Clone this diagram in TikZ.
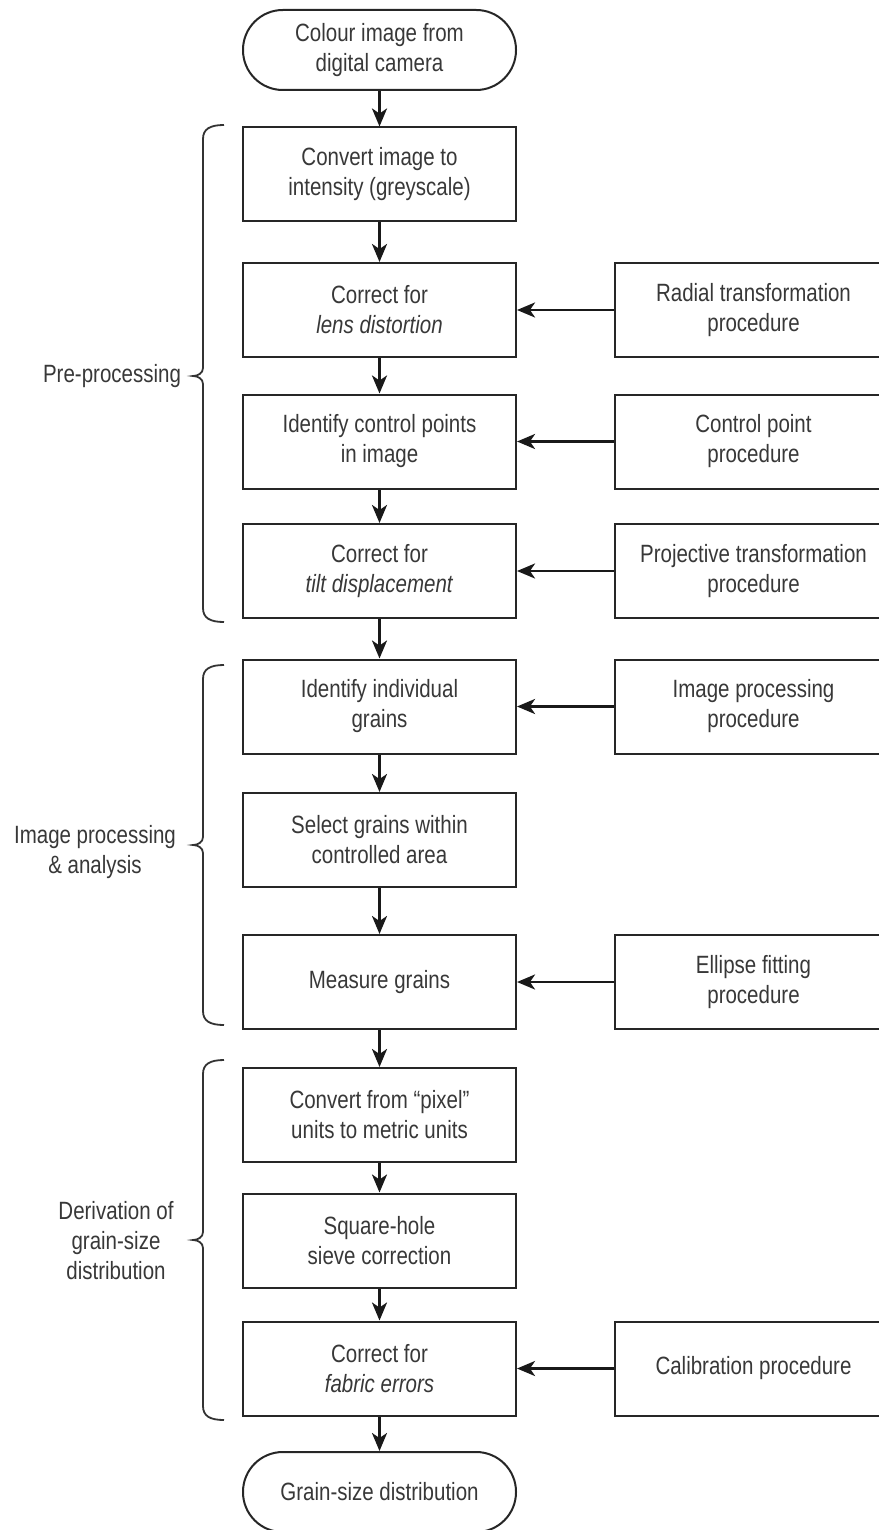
\documentclass[tikz,border=0pt]{standalone}
\usepackage{fontspec}
\setmainfont{Liberation Sans}[FakeStretch=0.82]
\usetikzlibrary{arrows.meta}
\begin{document}
\begin{tikzpicture}[x=0.5pt,y=-0.5pt,font=\fontsize{12.5}{15}\selectfont]
\tikzset{
 box/.style={draw=black!85, line width=1pt, minimum width=136.5pt, minimum height=47pt, inner sep=0pt, align=center, text=black!78},
 sidebox/.style={box, minimum width=138.5pt},
 term/.style={box, minimum height=40pt, rounded corners=19.9pt},
 flow/.style={draw=black!90, line width=1.35pt, -{Stealth[length=9pt,width=7.5pt,inset=2.5pt]}},
 brace/.style={draw=black!80, line width=0.9pt},
 lbl/.style={align=center, text=black!78}
}
\useasboundingbox (0,0) rectangle (878,1530);
% main column
\node[term] (t1) at (379.5,50) {Colour image from\\digital camera};
\node[box] (b1) at (379.5,174.5) {Convert image to\\intensity (greyscale)};
\node[box] (b2) at (379.5,310) {Correct for\\\textit{lens distortion}};
\node[box] (b3) at (379.5,441.5) {Identify control points\\in image};
\node[box] (b4) at (379.5,571) {Correct for\\\textit{tilt displacement}};
\node[box] (b5) at (379.5,706.5) {Identify individual\\grains};
\node[box] (b6) at (379.5,840) {Select grains within\\controlled area};
\node[box] (b7) at (379.5,982) {Measure grains};
\node[box] (b8) at (379.5,1115) {Convert from ``pixel''\\units to metric units};
\node[box] (b9) at (379.5,1240.5) {Square-hole\\sieve correction};
\node[box] (b10) at (379.5,1368.5) {Correct for\\\textit{fabric errors}};
\node[term] (t2) at (379.5,1492) {Grain-size distribution};
% side boxes
\node[sidebox] (r2) at (753.5,310) {Radial transformation\\procedure};
\node[sidebox] (r3) at (753.5,441.5) {Control point\\procedure};
\node[sidebox] (r4) at (753.5,571) {Projective transformation\\procedure};
\node[sidebox] (r5) at (753.5,706.5) {Image processing\\procedure};
\node[sidebox] (r7) at (753.5,982) {Ellipse fitting\\procedure};
\node[sidebox] (r10) at (753.5,1368.5) {Calibration procedure};
% vertical flow
\draw[flow] (t1) -- (b1);
\draw[flow] (b1) -- (b2);
\draw[flow] (b2) -- (b3);
\draw[flow] (b3) -- (b4);
\draw[flow] (b4) -- (b5);
\draw[flow] (b5) -- (b6);
\draw[flow] (b6) -- (b7);
\draw[flow] (b7) -- (b8);
\draw[flow] (b8) -- (b9);
\draw[flow] (b9) -- (b10);
\draw[flow] (b10) -- (t2);
% side inputs
\draw[flow] (r2) -- (b2);
\draw[flow] (r3) -- (b3);
\draw[flow] (r4) -- (b4);
\draw[flow] (r5) -- (b5);
\draw[flow] (r7) -- (b7);
\draw[flow] (r10) -- (b10);
% braces
\draw[brace] (224,125) .. controls (210,125) and (203,129) .. (203,139) -- (203,368) .. controls (203,373) and (198,376) .. (193,376) .. controls (198,376) and (203,379) .. (203,384) -- (203,608) .. controls (203,618) and (210,622) .. (224,622);
\draw[brace] (224,665) .. controls (210,665) and (203,669) .. (203,679) -- (203,837) .. controls (203,842) and (198,845) .. (193,845) .. controls (198,845) and (203,848) .. (203,853) -- (203,1011) .. controls (203,1021) and (210,1025) .. (224,1025);
\draw[brace] (224,1060) .. controls (210,1060) and (203,1064) .. (203,1074) -- (203,1232) .. controls (203,1237) and (198,1240) .. (193,1240) .. controls (198,1240) and (203,1243) .. (203,1248) -- (203,1406) .. controls (203,1416) and (210,1420) .. (224,1420);
% labels
\node[lbl] (l1) at (112,376) {Pre-processing};
\node[lbl] (l2) at (95,852) {Image processing\\\& analysis};
\node[lbl] (l3) at (116,1241) {Derivation of\\grain-size\\distribution};
\end{tikzpicture}
\end{document}
